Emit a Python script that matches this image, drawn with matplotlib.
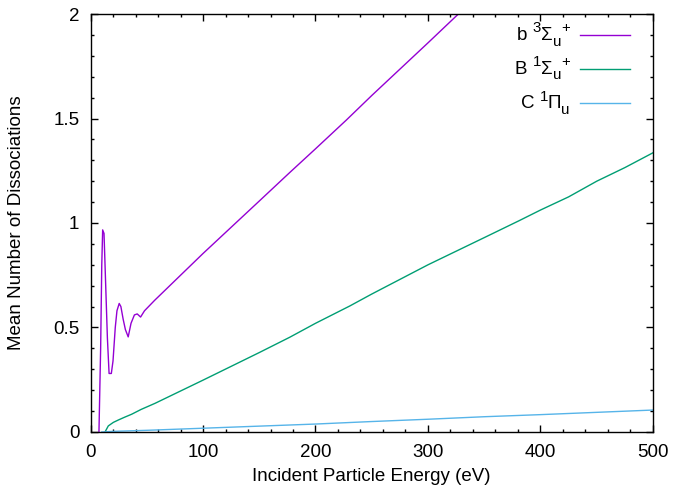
import numpy as np
import matplotlib
matplotlib.use("Agg")
import matplotlib.pyplot as plt
from matplotlib.ticker import MultipleLocator, FormatStrFormatter
from matplotlib.transforms import offset_copy

plt.rcParams['font.family'] = ['Liberation Sans', 'DejaVu Sans']

# b 3Sigma_u+ state
e_b3 = [7.5, 9, 10, 10.8, 12, 13.5, 15, 16.5, 18.5, 20, 22, 23.5, 25.5, 27, 29,
        31, 33.5, 36, 39, 41.5, 44.5, 48, 57, 100, 150, 177, 200, 227.5, 250,
        300, 327, 400, 500]
n_b3 = [0, 0.4, 0.8, 0.967, 0.95, 0.7, 0.45, 0.28, 0.28, 0.34, 0.5, 0.58, 0.615,
        0.6, 0.54, 0.49, 0.455, 0.52, 0.56, 0.565, 0.55, 0.58, 0.63, 0.854,
        1.105, 1.241, 1.355, 1.493, 1.61, 1.862, 2.0, 2.37, 2.88]

# B 1Sigma_u+ state
e_B1 = [12.9, 15.8, 20.3, 25, 30, 36.6, 45, 57.3, 100, 150, 177, 200, 230.5,
        250, 300, 350, 381, 400, 425, 450, 475, 500]
n_B1 = [0.0, 0.029, 0.046, 0.058, 0.07, 0.085, 0.108, 0.137, 0.248, 0.38, 0.453,
        0.52, 0.603, 0.66, 0.80, 0.93, 1.011, 1.062, 1.125, 1.2, 1.265, 1.336]

# C 1Pi_u state
e_C1 = [10, 20, 50, 100, 150, 200, 250, 300, 350, 400, 450, 500]
n_C1 = [0.0, 0.003, 0.008, 0.018, 0.028, 0.038, 0.05, 0.061, 0.073, 0.083,
        0.094, 0.105]

# key labels as gnuplot-style pieces: (text, kind) kind 0=normal, 1=sup, -1=sub
labels = [
    [('b ', 0), ('3', 1), ('Σ', 0), ('u', -1), ('+', 1)],
    [('B ', 0), ('1', 1), ('Σ', 0), ('u', -1), ('+', 1)],
    [('C ', 0), ('1', 1), ('Π', 0), ('u', -1)],
]
colors = ['#9400d3', '#009e73', '#56b4e9']

FS = 13.5
fig = plt.figure(figsize=(6.74, 4.90), dpi=100)
ax = fig.add_axes([0.1343, 0.1184, 0.8345, 0.853])

series = [(e_b3, n_b3), (e_B1, n_B1), (e_C1, n_C1)]
for (x, y), c in zip(series, colors):
    ax.plot(x, y, color=c, lw=1)


def key_label(pieces, x_right, y):
    # measure pieces, then lay them out left to right ending at x_right
    renderer = fig.canvas.get_renderer()
    sizes = {0: FS, 1: FS * 0.8, -1: FS * 0.8}
    shifts = {0: 0, 1: 5, -1: -4.5}
    widths = []
    for s, k in pieces:
        t = ax.text(0, 0, s, fontsize=sizes[k])
        widths.append(t.get_window_extent(renderer).width * 72 / fig.dpi)
        t.remove()
    x = -sum(widths)
    for (s, k), w in zip(pieces, widths):
        tr = offset_copy(ax.transAxes, fig=fig, x=x, y=shifts[k], units='points')
        ax.text(x_right, y, s, transform=tr, fontsize=sizes[k],
                ha='left', va='center')
        x += w


rows = [0.949, 0.868, 0.786]
for lab, c, yy in zip(labels, colors, rows):
    ax.plot([0.870, 0.959], [yy, yy], color=c, lw=1, transform=ax.transAxes)
    key_label(lab, 0.852, yy)

ax.set_xlim(0, 500)
ax.set_ylim(0, 2)
ax.xaxis.set_major_locator(MultipleLocator(100))
ax.xaxis.set_minor_locator(MultipleLocator(20))
ax.yaxis.set_major_locator(MultipleLocator(0.5))
ax.yaxis.set_minor_locator(MultipleLocator(0.1))
ax.yaxis.set_major_formatter(FormatStrFormatter('%g'))
ax.tick_params(which='both', direction='in', top=True, right=True,
               labelsize=FS, width=1)
ax.tick_params(which='major', length=5)
ax.tick_params(axis='x', which='major', pad=9)
ax.tick_params(axis='y', which='major', pad=8)
ax.tick_params(which='minor', length=2.5)
for s in ax.spines.values():
    s.set_linewidth(1)

ax.set_xlabel('Incident Particle Energy (eV)', fontsize=FS, labelpad=5)
ax.set_ylabel('Mean Number of Dissociations', fontsize=FS, labelpad=20)

fig.savefig('out.png', dpi=100)
